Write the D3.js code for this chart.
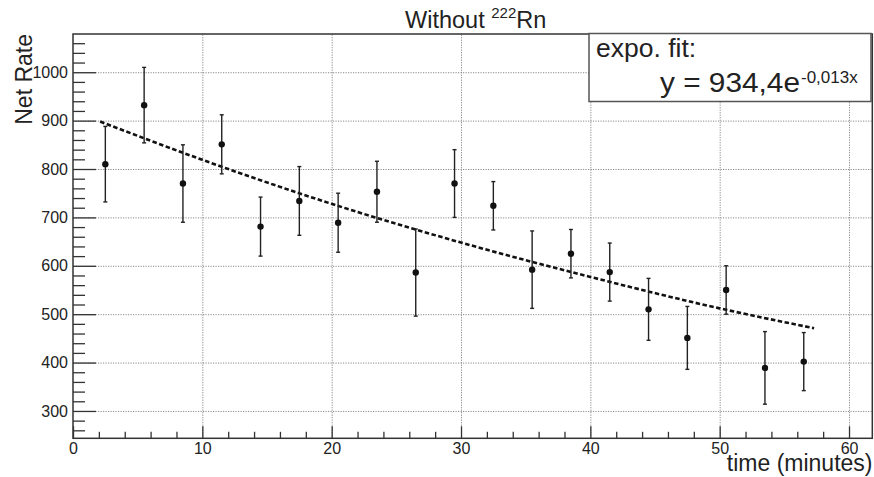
<!DOCTYPE html>
<html>
<head>
<meta charset="utf-8">
<script src="https://cdn.jsdelivr.net/npm/d3@7"></script>
<style>
body{margin:0;background:#fff}
svg{display:block;font-family:"Liberation Sans",Arial,Helvetica,sans-serif}
</style>
</head>
<body>
<svg id="chart" width="874" height="477"></svg>
<script>
// measured points (time in minutes, net rate, error)
let times=[2.5,5.5,8.5,11.5,14.5,17.5,20.5,23.5,26.5,29.5,32.5,35.5,38.5,41.5,44.5,47.5,50.5,53.5,56.5]
let rates=[810,932,770,851,681,734,689,753,586,770,724,592,625,587,510,451,550,389,402]
let errs=[78,78,80,61,61,71,61,63,90,70,50,80,50,60,64,65,50,75,60]

// expo fit curve
let fitTimes=[2.1,10,20,30,40,50,57.3]
let fitRates=[898,819,728,648,577,512,471]

let xTicks=[0,10,20,30,40,50,60]
let yTicks=[300,400,500,600,700,800,900,1000]

let svg=d3.select("#chart")
let padL=73,padR=872.3,padT=34,padB=438.3

let x=d3.scaleLinear().domain([0,61.8]).range([padL,padR])
let y=d3.scaleLinear().domain([243.5,1079]).range([padB,padT])

// grid
svg.append("g")
	.attr("transform","translate(0,"+padB+")")
	.call(d3.axisBottom(x).tickValues(xTicks.slice(1)).tickSize(-(padB-padT)).tickFormat(""))
	.call(g=>g.select(".domain").remove())
	.selectAll("line").attr("stroke","#8a8a8a").attr("stroke-dasharray","1.2,1.3")
svg.append("g")
	.attr("transform","translate("+padL+",0)")
	.call(d3.axisLeft(y).tickValues(yTicks).tickSize(-(padR-padL)).tickFormat(""))
	.call(g=>g.select(".domain").remove())
	.selectAll("line").attr("stroke","#8a8a8a").attr("stroke-dasharray","1.2,1.3")

// minor ticks
let xMinor=d3.range(0,62,2).filter(v=>v%10!=0)
let yMinor=d3.range(260,1079,20).filter(v=>v%100!=0)
svg.append("g")
	.attr("transform","translate(0,"+padB+")")
	.call(d3.axisBottom(x).tickValues(xMinor).tickSize(-6.5).tickFormat(""))
	.call(g=>g.select(".domain").remove())
	.selectAll("line").attr("stroke","#333").attr("stroke-width",1.3)
svg.append("g")
	.attr("transform","translate("+padL+",0)")
	.call(d3.axisLeft(y).tickValues(yMinor).tickSize(-12).tickFormat(""))
	.call(g=>g.select(".domain").remove())
	.selectAll("line").attr("stroke","#333").attr("stroke-width",1.3)

// major ticks + labels
let xAxis=svg.append("g")
	.attr("transform","translate(0,"+padB+")")
	.call(d3.axisBottom(x).tickValues(xTicks).tickSize(-12).tickPadding(4.5).tickFormat(d3.format("d")))
xAxis.select(".domain").remove()
xAxis.selectAll("line").attr("stroke","#333").attr("stroke-width",1.3)
xAxis.selectAll("text").attr("font-size",16).attr("fill","#222").style("font-family","inherit")

let yAxis=svg.append("g")
	.attr("transform","translate("+padL+",0)")
	.call(d3.axisLeft(y).tickValues(yTicks).tickSize(-23).tickPadding(5).tickFormat(d3.format("d")))
yAxis.select(".domain").remove()
yAxis.selectAll("line").attr("stroke","#333").attr("stroke-width",1.3)
yAxis.selectAll("text").attr("font-size",16).attr("fill","#222").style("font-family","inherit")

// frame
svg.append("rect")
	.attr("x",padL).attr("y",padT)
	.attr("width",padR-padL).attr("height",padB-padT)
	.attr("fill","none").attr("stroke","#333").attr("stroke-width",1.5)

// fit line
let line=d3.line().x((d,i)=>x(fitTimes[i])).y(d=>y(d)).curve(d3.curveMonotoneX)
svg.append("path")
	.attr("d",line(fitRates))
	.attr("fill","none")
	.attr("stroke","#111")
	.attr("stroke-width",2.6)
	.attr("stroke-dasharray","4.5,2.5")

// error bars
let pts=svg.append("g").attr("stroke","#222").attr("stroke-width",1.4)
pts.selectAll(".bar").data(rates).enter().append("line")
	.attr("x1",(d,i)=>x(times[i])).attr("x2",(d,i)=>x(times[i]))
	.attr("y1",(d,i)=>y(d-errs[i])).attr("y2",(d,i)=>y(d+errs[i]))
pts.selectAll(".capt").data(rates).enter().append("line")
	.attr("x1",(d,i)=>x(times[i])-2).attr("x2",(d,i)=>x(times[i])+2)
	.attr("y1",(d,i)=>y(d+errs[i])).attr("y2",(d,i)=>y(d+errs[i]))
pts.selectAll(".capb").data(rates).enter().append("line")
	.attr("x1",(d,i)=>x(times[i])-2).attr("x2",(d,i)=>x(times[i])+2)
	.attr("y1",(d,i)=>y(d-errs[i])).attr("y2",(d,i)=>y(d-errs[i]))
svg.selectAll("circle").data(rates).enter().append("circle")
	.attr("cx",(d,i)=>x(times[i]))
	.attr("cy",d=>y(d))
	.attr("r",3.2)
	.attr("fill","#111")

// legend box
svg.append("rect")
	.attr("x",589).attr("y",33.5).attr("width",282).attr("height",68)
	.attr("fill","#fff").attr("stroke","#555").attr("stroke-width",1.5)
svg.append("text")
	.attr("x",596).attr("y",57)
	.attr("font-size",26.5).attr("fill","#222")
	.text("expo. fit:")
svg.append("text")
	.attr("x",660).attr("y",91.7)
	.attr("font-size",27).attr("fill","#222")
	.attr("textLength",140).attr("lengthAdjust","spacingAndGlyphs")
	.attr("xml:space","preserve")
	.text("y = 934,4e")
svg.append("text")
	.attr("x",801).attr("y",83)
	.attr("font-size",17).attr("fill","#222")
	.text("-0,013x")

// title
let title=svg.append("text")
	.attr("x",405).attr("y",28.3)
	.attr("font-size",23.5).attr("fill","#222")
title.append("tspan").text("Without ")
title.append("tspan").attr("font-size",15).attr("dy",-10).text("222")
title.append("tspan").attr("dy",10).text("Rn")

// axis titles
svg.append("text")
	.attr("transform","translate(32,34) rotate(-90)")
	.attr("text-anchor","end")
	.attr("font-size",23).attr("fill","#222")
	.text("Net Rate")
svg.append("text")
	.attr("x",872.5).attr("y",470.5)
	.attr("text-anchor","end")
	.attr("font-size",23).attr("fill","#222")
	.text("time (minutes)")
</script>
</body>
</html>
